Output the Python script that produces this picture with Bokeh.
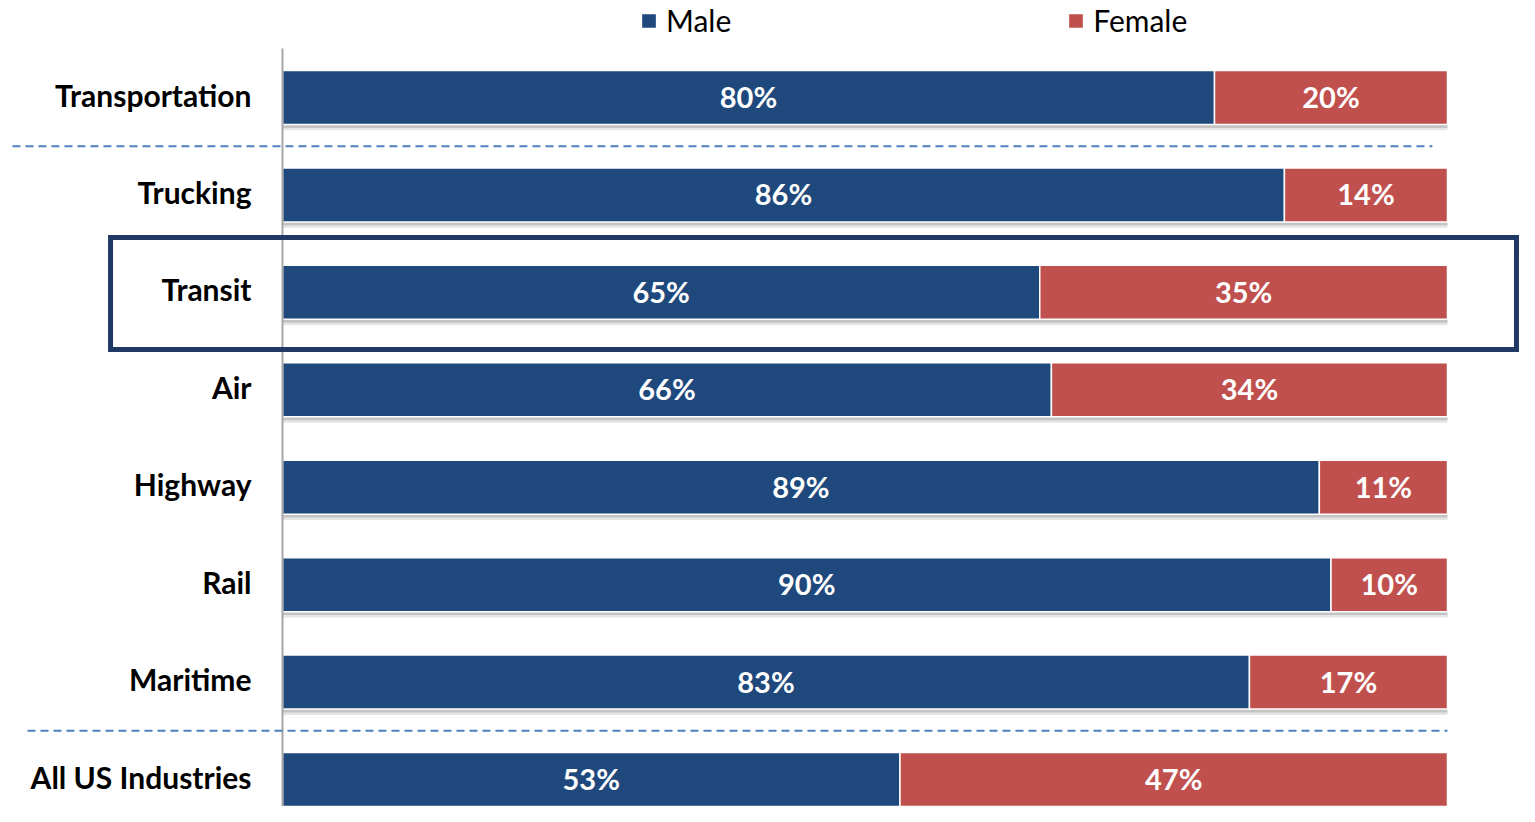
from bokeh.plotting import figure
from bokeh.models import ColumnDataSource, Range1d, Legend, LegendItem
from bokeh.core.properties import value
from bokeh.embed import file_html
from bokeh.resources import INLINE

# ---- data ----
categories = ["Transportation", "Trucking", "Transit", "Air", "Highway", "Rail", "Maritime", "All US Industries"]
male = [80, 86, 65, 66, 89, 90, 83, 53]
female = [20, 14, 35, 34, 11, 10, 17, 47]
highlight = "Transit"
separators_after = ["Transportation", "Maritime"]

MALE_C = "#1F497D"
FEMALE_C = "#C0504D"
FONT = "Lato"

W, H = 1519, 806
idx = list(range(len(categories)))
male_mid = [m / 2 for m in male]
fem_mid = [m + f / 2 for m, f in zip(male, female)]
totals = [m + f for m, f in zip(male, female)]

src = ColumnDataSource(dict(
    y=idx, cat=categories, male=male, female=female, total=totals,
    male_mid=male_mid, fem_mid=fem_mid,
    male_lbl=[f"{m}%" for m in male], fem_lbl=[f"{f}%" for f in female],
    shadow_y=[i + 0.035 for i in idx], shadow_y2=[i + 0.06 for i in idx],
))

p = figure(width=W, height=H, output_backend="svg", toolbar_location=None,
           x_axis_type=None, y_axis_type=None,
           x_range=Range1d(-24.206, 106.18), y_range=Range1d(7.277, -0.9956),
           min_border=0, min_border_left=0, min_border_right=0,
           min_border_top=0, min_border_bottom=0)
p.outline_line_color = None
p.xgrid.visible = False
p.ygrid.visible = False
p.background_fill_color = "white"

# shadows
p.hbar(y="shadow_y2", left=0, right="total", height=0.554, source=src,
       fill_color="#000000", fill_alpha=0.10, line_color=None)
p.hbar(y="shadow_y", left=0, right="total", height=0.554, source=src,
       fill_color="#000000", fill_alpha=0.15, line_color=None)

male_r = p.hbar(y="y", left=0, right="male", height=0.554, source=src,
                fill_color=MALE_C, line_color="white", line_width=1.5)
fem_r = p.hbar(y="y", left="male", right="total", height=0.554, source=src,
               fill_color=FEMALE_C, line_color="white", line_width=1.5)

# value labels
p.text(x="male_mid", y="y", text="male_lbl", source=src, text_color="white",
       text_font=value(FONT), text_font_style="bold", text_font_size="29px",
       text_align="center", text_baseline="middle", y_offset=-1)
p.text(x="fem_mid", y="y", text="fem_lbl", source=src, text_color="white",
       text_font=value(FONT), text_font_style="bold", text_font_size="29px",
       text_align="center", text_baseline="middle", y_offset=-1)

# category labels
p.text(x=0, y="y", text="cat", source=src, x_offset=-31, y_offset=-3, text_color="black",
       text_font=value(FONT), text_font_style="bold", text_font_size="30px",
       text_align="right", text_baseline="middle")

# vertical axis line
p.segment(x0=[0], y0=[-0.503], x1=[0], y1=[7.277], line_color="#A6A6A6", line_width=2)

# dashed separators
sep_y = [categories.index(c) + 0.5 for c in separators_after]
p.segment(x0=[-23.18, -21.89], y0=sep_y, x1=[98.7, 100], y1=sep_y,
          line_color="#4F81BD", line_width=2, line_dash="8 5")

# highlight box
hi = categories.index(highlight)
p.quad(left=[-14.76], right=[105.92], bottom=[hi + 0.586], top=[hi - 0.563],
       fill_alpha=0, line_color="#1F3864", line_width=5, line_join="miter")

legend = Legend(items=[LegendItem(label="Male", renderers=[male_r]),
                       LegendItem(label="Female", renderers=[fem_r])],
                orientation="horizontal", location=(639, 768), spacing=335,
                glyph_width=19, glyph_height=19, label_standoff=8,
                label_text_font=FONT, label_text_font_size="30px",
                label_text_color="black",
                padding=0, margin=0, border_line_alpha=0, background_fill_alpha=0)
p.add_layout(legend)

open("out.html", "w").write(file_html(p, INLINE))
